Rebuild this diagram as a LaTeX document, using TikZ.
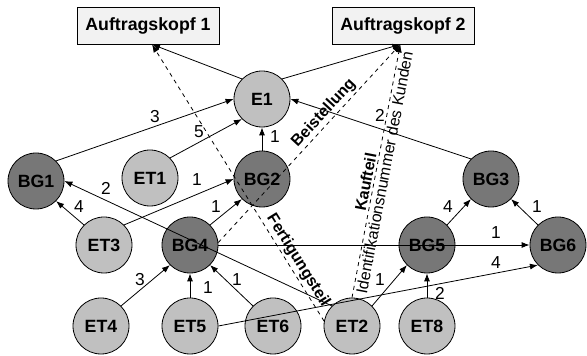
\documentclass[tikz,border=0pt]{standalone}
\usepackage{fontspec}
\setmainfont{Liberation Sans}
\usetikzlibrary{arrows.meta}
\definecolor{etgray}{HTML}{C0C0C0}
\definecolor{bggray}{HTML}{777777}
\definecolor{kopfgray}{HTML}{F2F2F2}
\begin{document}
\begin{tikzpicture}[x=.75pt,y=-.75pt,
	et/.style={circle,draw,line width=.6pt,fill=etgray,minimum size=42pt,inner sep=0pt,font=\fontsize{13.3}{16}\selectfont\bfseries},
	bg/.style={et,fill=bggray},
	kopf/.style={draw,line width=.6pt,fill=kopfgray,minimum width=106.5pt,minimum height=27.75pt,inner sep=0pt,font=\fontsize{13.3}{16}\selectfont\bfseries},
	wt/.style={inner sep=0pt,font=\fontsize{13}{15}\selectfont},
	lab/.style={sloped,inner sep=1.5pt,font=\fontsize{12}{14}\selectfont\bfseries},
	pf/.style={-{Latex[length=6pt,width=4.5pt]},line width=.6pt},
	dpf/.style={pf,dashed}]
		\useasboundingbox (0,0) rectangle (587,356);
		
		\node[kopf] (A1) at (148,25.5) {Auftragskopf 1};
		\node[kopf] (A2) at (403,25.5) {Auftragskopf 2};
		\coordinate (A1in) at ([xshift=3pt]A1.south);
		\coordinate (A2in) at ([xshift=-2pt]A2.south);
		
		\node[et] (E1) at (262,99) {E1};
		\node[bg] (BG1) at (36,181) {BG1}; \node[et] (ET1) at (150,178) {ET1};
		\node[bg] (BG2) at (262,179) {BG2}; \node[bg] (BG3) at (491,179) {BG3};
		\node[et] (ET3) at (104,245) {ET3}; \node[bg] (BG4) at (190,245) {BG4};
		\node[bg] (BG5) at (427,245) {BG5}; \node[bg] (BG6) at (558,245) {BG6};
		\node[et] (ET4) at (101,326) {ET4}; \node[et] (ET5) at (190,326) {ET5};
		\node[et] (ET6) at (273,326) {ET6}; \node[et] (ET2) at (352,326) {ET2};
		\node[et] (ET8) at (427,326) {ET8};
		
		\draw[pf] (E1.135) -- (A1in); \draw[pf] (E1.45) -- (A2in);
		\draw[dpf] (ET2.170) -- node[lab,above,pos=.2] (fert) {Fertigungsteil} (A1in);
		\draw[dpf] (BG4.5) -- node[lab,above,pos=.62] (beist) {Beistellung} (A2in);
		\draw[dpf] (ET2.north) -- node[lab,above,pos=.45] (kauf) {Kaufteil}
			node[lab,below,pos=.5,font=\fontsize{12}{14}\selectfont] (ident) {Identifikationsnummer des Kunden} (A2in);
		
		\draw[pf] (BG1.45) -- (E1.west); \node[wt] (w1) at (155,117) {3};
		\draw[pf] (ET1.45) -- (E1.225); \node[wt] (w2) at (199,132) {5};
		\draw[pf] (BG2) -- (E1); \node[wt] (w3) at (275,137) {1};
		\draw[pf] (BG3.135) -- (E1.east); \node[wt] (w4) at (380,115) {2};
		\draw[pf] (ET3.135) -- (BG1.-45); \node[wt] (w5) at (79,207) {4};
		\draw[pf] (ET3.45) -- (BG2.west); \node[wt] (w6) at (197,180) {1};
		\draw[pf] (ET2.135) -- (BG1.east); \node[wt] (w7) at (106,188) {2};
		\draw[pf] (BG4.45) -- (BG2.225); \node[wt] (w8) at (216,207) {1};
		\draw[pf] (BG4) -- (BG6); \node[wt] (w9) at (496,233) {1};
		\draw[pf] (ET5.east) -- (BG6.225); \node[wt] (w10) at (496,263) {4};
		\draw[pf] (ET4.45) -- (BG4.225); \node[wt] (w11) at (140,280) {3};
		\draw[pf] (ET5) -- (BG4); \node[wt] (w12) at (208,288) {1};
		\draw[pf] (ET6.135) -- (BG4.-45); \node[wt] (w13) at (237,280) {1};
		\draw[pf] (ET2.45) -- (BG5.225); \node[wt] (w14) at (380,280) {1};
		\draw[pf] (ET8) -- (BG5); \node[wt] (w15) at (440,293) {2};
		\draw[pf] (BG5.45) -- (BG3.225); \node[wt] (w16) at (448,207) {4};
		\draw[pf] (BG6.135) -- (BG3.-45); \node[wt] (w17) at (537,207) {1};
\end{tikzpicture}
\end{document}
